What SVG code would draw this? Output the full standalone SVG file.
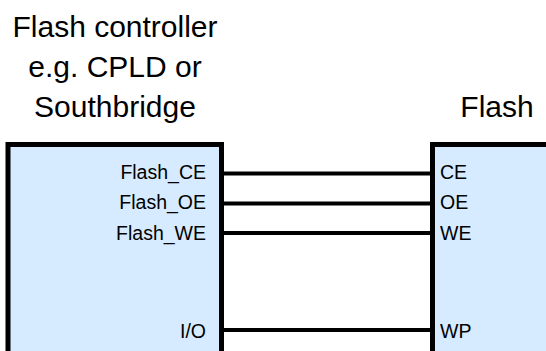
<svg xmlns="http://www.w3.org/2000/svg" width="546" height="351" viewBox="0 0 546 351">
<style>
.box{fill:#d6ebff;stroke:#000;stroke-width:5}
.title{font-family:"Liberation Sans",Arial,sans-serif;font-size:30px;fill:#000;text-anchor:middle}
.lbl{font-family:"Liberation Sans",Arial,sans-serif;font-size:19.5px;fill:#000}
.r{text-anchor:end}
.wire{stroke:#000;stroke-width:4;fill:none}
</style>
<rect width="546" height="351" fill="#fff"/>
<g id="controller">
<rect class="box" x="8" y="144.5" width="213.5" height="230"/>
<text class="title" x="115" y="37">Flash controller</text>
<text class="title" x="115" y="77">e.g. CPLD or</text>
<text class="title" x="115" y="116.5">Southbridge</text>
<text class="lbl r" x="206" y="179">Flash_CE</text>
<text class="lbl r" x="206" y="209">Flash_OE</text>
<text class="lbl r" x="206" y="239.5">Flash_WE</text>
<text class="lbl r" x="206" y="337.5">I/O</text>
</g>
<g id="flash">
<rect class="box" x="432.5" y="144.5" width="200" height="230"/>
<text class="title" x="497" y="116.5">Flash</text>
<text class="lbl" x="440" y="179">CE</text>
<text class="lbl" x="440" y="209">OE</text>
<text class="lbl" x="440" y="239.5">WE</text>
<text class="lbl" x="440" y="337.5">WP</text>
</g>
<g id="connectors">
<line class="wire" x1="221.5" y1="173.5" x2="432.5" y2="173.5"/>
<line class="wire" x1="221.5" y1="203.5" x2="432.5" y2="203.5"/>
<line class="wire" x1="221.5" y1="233" x2="432.5" y2="233"/>
<line class="wire" x1="221.5" y1="330" x2="432.5" y2="330"/>
</g>
</svg>
